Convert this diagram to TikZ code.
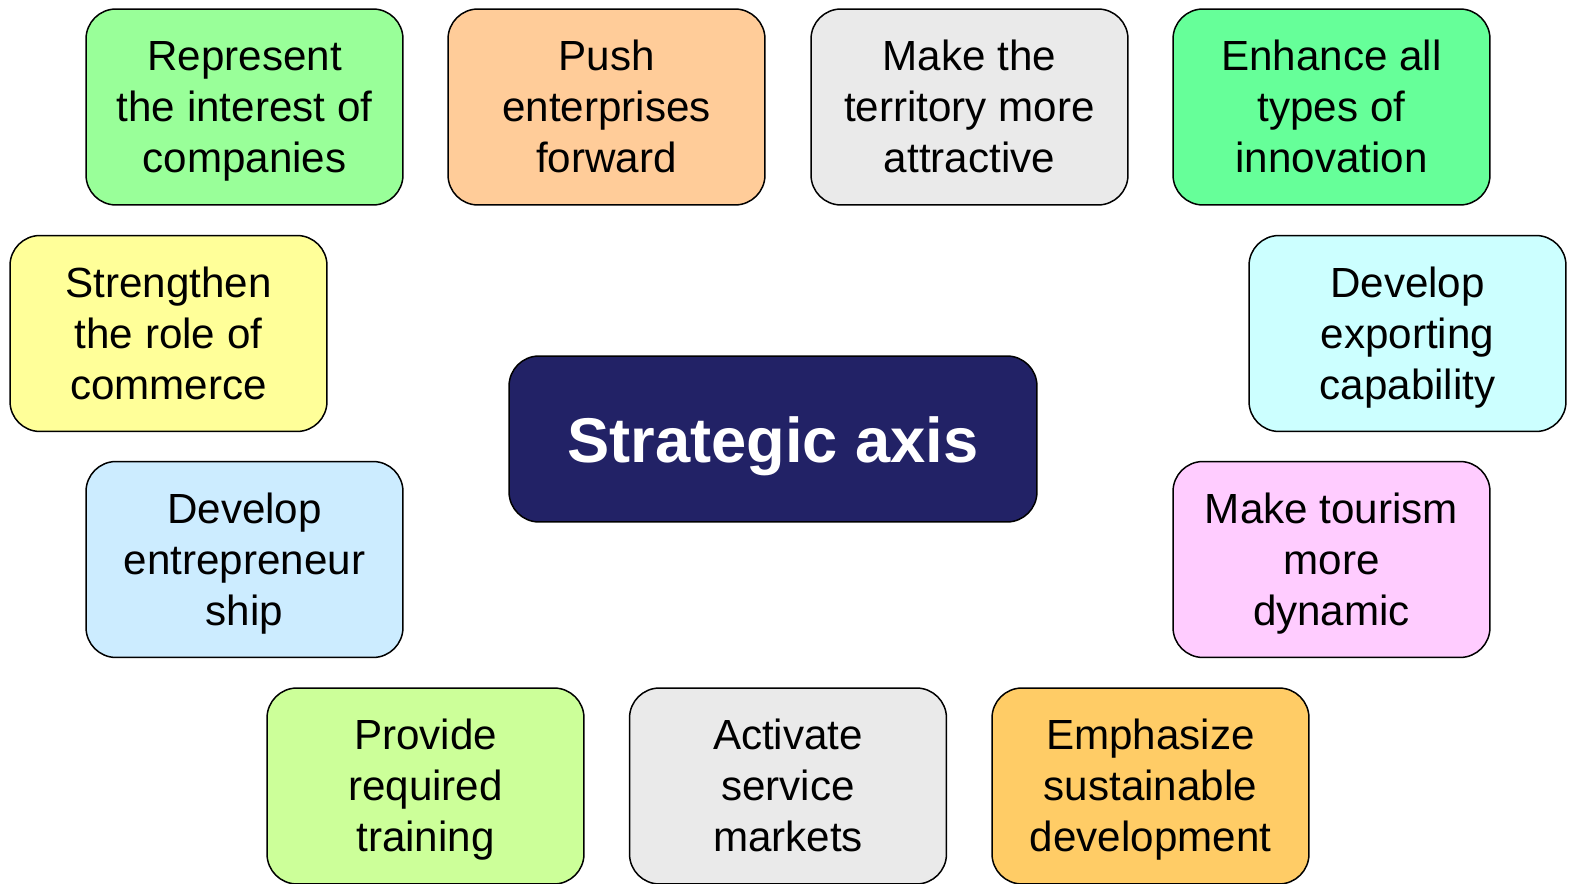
\documentclass[tikz,border=0pt]{standalone}
\usepackage{fontspec}
\setmainfont{Liberation Sans}
\usepackage{tikz}

\definecolor{greenA}{HTML}{99FF99}
\definecolor{orangeA}{HTML}{FFCC99}
\definecolor{greyA}{HTML}{EAEAEA}
\definecolor{greenB}{HTML}{66FF99}
\definecolor{yellowA}{HTML}{FFFF99}
\definecolor{cyanA}{HTML}{CCFFFF}
\definecolor{blueA}{HTML}{CCECFF}
\definecolor{pinkA}{HTML}{FFCCFF}
\definecolor{limeA}{HTML}{CCFF99}
\definecolor{goldA}{HTML}{FFCC66}
\definecolor{navyA}{HTML}{222266}

\begin{document}
\begin{tikzpicture}[
		x=0.02cm, y=-0.02cm,
		every node/.style={rectangle, draw, line width=0.85pt, rounded corners=0.6cm,
			minimum width=6.34cm, minimum height=3.92cm, align=center,
			text height=75pt, text depth=0pt,
			font=\fontsize{24}{29}\selectfont},
		axis/.style={fill=navyA, text=white, minimum width=10.56cm, minimum height=3.32cm,
			text height=30pt, text depth=3.6pt,
			font=\fontsize{36}{43}\selectfont\bfseries}
	]
  \useasboundingbox (0,0) rectangle (1570,884);
  \node (represent) [fill=greenA] at (244.5, 107) {Represent\\the interest of\\companies};
  \node (push) [fill=orangeA] at (606.5, 107) {Push\\enterprises\\forward};
  \node (territory) [fill=greyA] at (969.5, 107) {Make the\\territory more\\attractive};
  \node (innovation) [fill=greenB] at (1331.5, 107) {Enhance all\\types of\\innovation};
  \node (commerce) [fill=yellowA] at (168.5, 333.5) {Strengthen\\the role of\\commerce};
  \node (exporting) [fill=cyanA] at (1407.5, 333.5) {Develop\\exporting\\capability};
  \node (axis) [axis] at (773, 439) {Strategic axis};
  \node (entrepreneur) [fill=blueA] at (244.5, 559.5) {Develop\\entrepreneur\\ship};
  \node (tourism) [fill=pinkA] at (1331.5, 559.5) {Make tourism\\more\\dynamic};
  \node (training) [fill=limeA] at (425.5, 786) {Provide\\required\\training};
  \node (markets) [fill=greyA] at (788, 786) {Activate\\service\\markets};
  \node (sustain) [fill=goldA] at (1150.5, 786) {Emphasize\\sustainable\\development};
\end{tikzpicture}
\end{document}
